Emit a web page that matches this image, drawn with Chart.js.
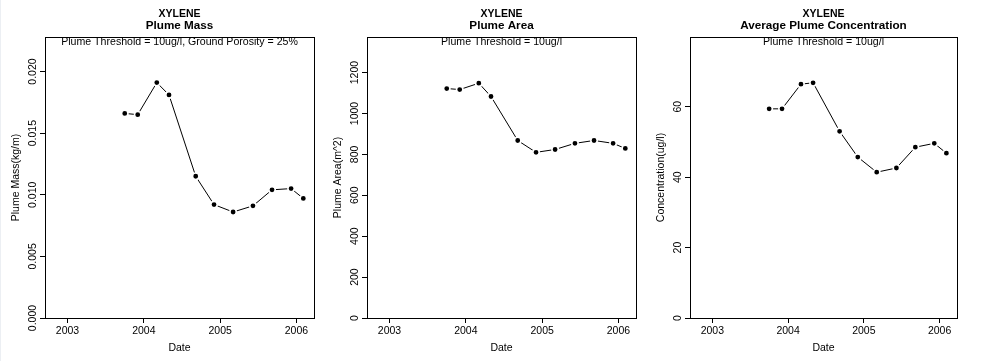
<!DOCTYPE html>
<html>
<head>
<meta charset="utf-8">
<script src="https://cdn.jsdelivr.net/npm/chart.js@4.4.0/dist/chart.umd.min.js"></script>
<style>
  body { margin: 0; background: #fff; }
  #wrap { position: relative; width: 985px; height: 361px; overflow: hidden; }
  #edge { position: absolute; left: 0; top: 0; width: 1px; height: 361px; background: #eceff3; }
  canvas { position: absolute; top: 0; }
</style>
</head>
<body>
<div id="wrap">
  <div id="edge"></div>
  <canvas id="c-mass" width="325" height="361" style="left:0px"></canvas>
  <canvas id="c-area" width="325" height="361" style="left:325px"></canvas>
  <canvas id="c-conc" width="335" height="361" style="left:650px"></canvas>
</div>
<script>
// dados (datas em anos decimais)
const sampleDates = [2003.75, 2003.92, 2004.17, 2004.33, 2004.68, 2004.92, 2005.17, 2005.43, 2005.68, 2005.93, 2006.09];
const massValues = [0.0166, 0.0165, 0.0191, 0.0181, 0.0115, 0.0092, 0.0086, 0.0091, 0.0104, 0.0105, 0.0097];
const areaValues = [1122, 1117, 1148, 1083, 868, 810, 824, 854, 868, 854, 829];
const concValues = [59.4, 59.4, 66.4, 66.8, 53.0, 45.7, 41.4, 42.6, 48.5, 49.6, 46.8];

const yearTicks = [2003, 2004, 2005, 2006];
const massTicks = [0, 0.005, 0.010, 0.015, 0.020];
const areaTicks = [0, 200, 400, 600, 800, 1000, 1200];
const concTicks = [0, 20, 40, 60];

const FONT = '"Liberation Sans", Arial, Helvetica, sans-serif';

// desenha a moldura, os rotulos (estilo R) e os titulos
const rFrame = {
    id: 'rFrame',
    afterDraw: (chart, args, o) => {
        const { ctx, chartArea: a, scales: { x, y } } = chart;
        const cx = (a.left + a.right) / 2;
        ctx.save();
        ctx.strokeStyle = '#000';
        ctx.lineWidth = 1;
        ctx.strokeRect(Math.round(a.left) + 0.5, Math.round(a.top) + 0.5,
            Math.round(a.right - a.left), Math.round(a.bottom - a.top));

        ctx.fillStyle = '#000';
        ctx.textAlign = 'center';
        ctx.textBaseline = 'middle';

        // ticks do eixo x
        ctx.font = '10.5px ' + FONT;
        x.ticks.forEach(t => ctx.fillText(String(t.value), x.getPixelForValue(t.value), 331.5));
        ctx.fillText('Date', cx, 348);

        // ticks do eixo y (rotacionados)
        y.ticks.forEach(t => {
            ctx.save();
            ctx.translate(a.left - 12, y.getPixelForValue(t.value));
            ctx.rotate(-Math.PI / 2);
            ctx.fillText(t.value.toFixed(o.decimals), 0, 0);
            ctx.restore();
        });
        ctx.save();
        ctx.translate(a.left - 29, (a.top + a.bottom) / 2);
        ctx.rotate(-Math.PI / 2);
        ctx.fillText(o.ylab, 0, 0);
        ctx.restore();

        // subtitulo dentro da area
        ctx.font = '10.6px ' + FONT;
        ctx.fillText(o.sub, cx, 41.7);

        // titulo
        ctx.font = 'bold 10.5px ' + FONT;
        ctx.fillText('XYLENE', cx, 13.7);
        ctx.font = 'bold 11.7px ' + FONT;
        ctx.fillText(o.title, cx, 25.5);
        ctx.restore();
    }
};

const mkChart = (id, values, ticks, yMax, leftW, rightPad, o) => {
    const ctx = document.getElementById(id).getContext('2d');
    return new Chart(ctx, {
        type: 'line',
        data: {
            datasets: [{
                data: sampleDates.map((d, i) => ({ x: d, y: values[i] })),
                borderColor: '#000',
                borderWidth: 1,
                tension: 0,
                pointRadius: 3.2,
                pointBorderWidth: 1.6,
                pointBackgroundColor: '#000',
                pointBorderColor: '#fff'
            }]
        },
        options: {
            responsive: false,
            animation: false,
            layout: { padding: { top: 37, right: rightPad, left: 0, bottom: 0 } },
            plugins: { legend: { display: false }, tooltip: { enabled: false }, rFrame: o },
            scales: {
                x: {
                    type: 'linear', min: 2002.705, max: 2006.23,
                    afterBuildTicks: s => { s.ticks = yearTicks.map(v => ({ value: v })); },
                    afterFit: s => { s.height = 43; },
                    ticks: { display: false },
                    grid: { drawOnChartArea: false, drawTicks: true, tickLength: 5, color: '#000' },
                    border: { display: false }
                },
                y: {
                    type: 'linear', min: 0, max: yMax,
                    afterBuildTicks: s => { s.ticks = ticks.map(v => ({ value: v })); },
                    afterFit: s => { s.width = leftW; },
                    ticks: { display: false },
                    grid: { drawOnChartArea: false, drawTicks: true, tickLength: 5, color: '#000' },
                    border: { display: false }
                }
            }
        },
        plugins: [rFrame]
    });
};

mkChart('c-mass', massValues, massTicks, 0.0228, 45, 11, {
    title: 'Plume Mass', sub: 'Plume Threshold = 10ug/l, Ground Porosity = 25%',
    ylab: 'Plume Mass(kg/m)', decimals: 3
});
mkChart('c-area', areaValues, areaTicks, 1374, 42, 14, {
    title: 'Plume Area', sub: 'Plume Threshold = 10ug/l',
    ylab: 'Plume Area(m^2)', decimals: 0
});
mkChart('c-conc', concValues, concTicks, 79.8, 40, 28, {
    title: 'Average Plume Concentration', sub: 'Plume Threshold = 10ug/l',
    ylab: 'Concentration(ug/l)', decimals: 0
});
</script>
</body>
</html>
